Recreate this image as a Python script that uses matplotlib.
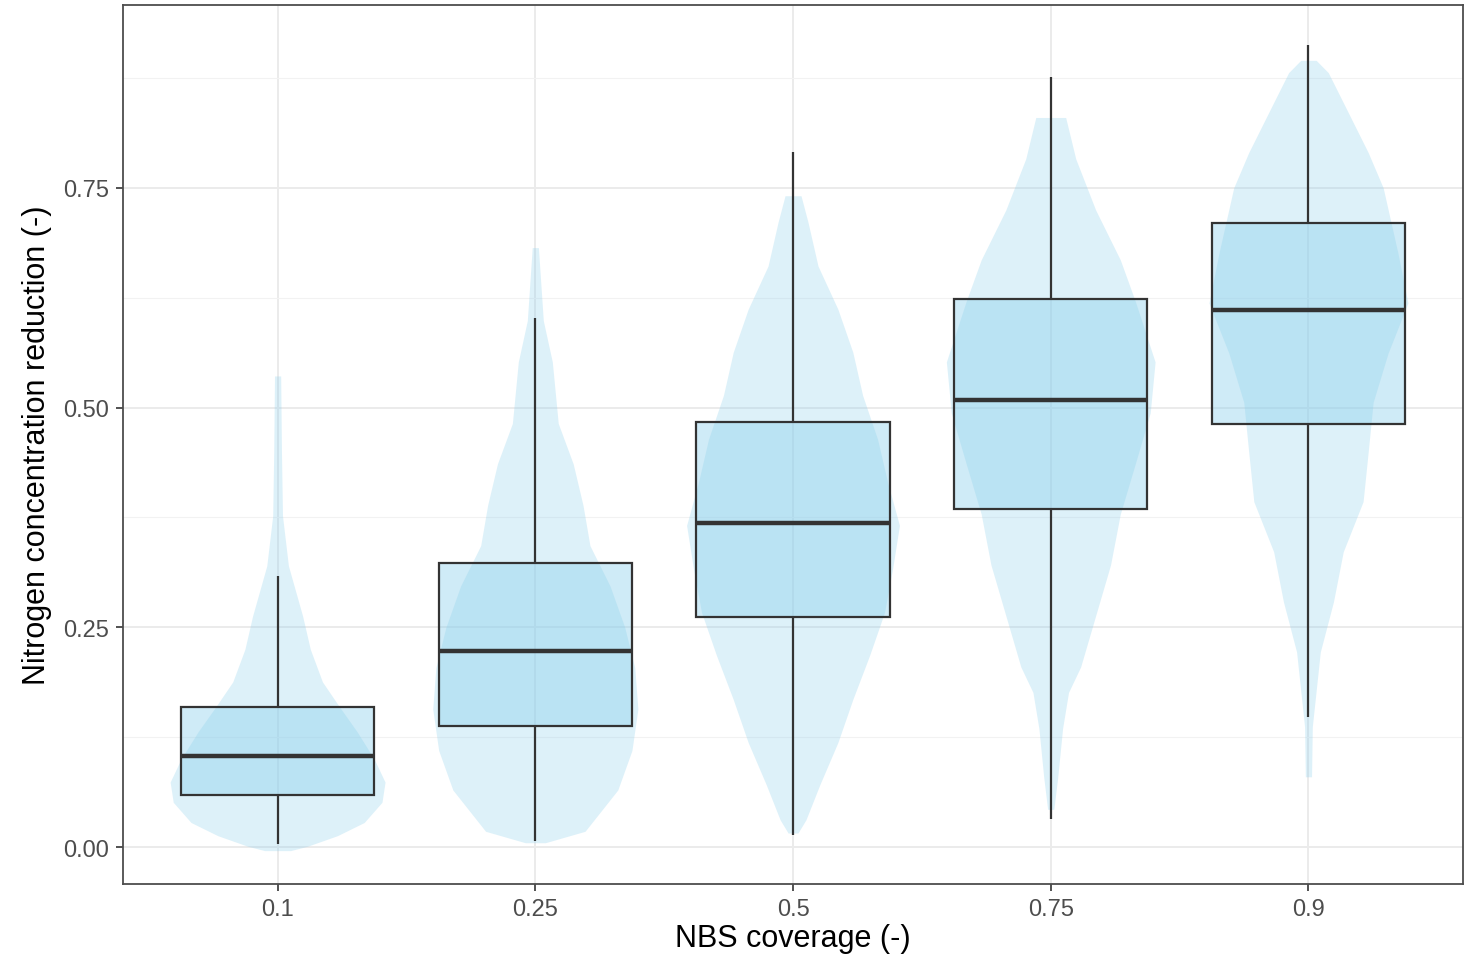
import matplotlib.pyplot as plt
import numpy as np

# categories (NBS coverage) and boxplot statistics
labels = ['0.1', '0.25', '0.5', '0.75', '0.9']
q1 = [0.059, 0.138, 0.262, 0.385, 0.481]
med = [0.104, 0.223, 0.369, 0.509, 0.611]
q3 = [0.159, 0.323, 0.484, 0.623, 0.710]
wlo = [0.003, 0.007, 0.014, 0.032, 0.148]
whi = [0.308, 0.602, 0.791, 0.876, 0.913]

# outline of the dot clouds: y level and half width (x-axis units)
cloud1_y = [-0.004, 0.001, 0.013, 0.028, 0.051, 0.074, 0.100, 0.131, 0.160, 0.188, 0.225, 0.263, 0.320, 0.377, 0.450, 0.536]
cloud1_w = [0.05, 0.116, 0.232, 0.336, 0.405, 0.417, 0.375, 0.309, 0.239, 0.174, 0.127, 0.097, 0.042, 0.019, 0.015, 0.012]
cloud2_y = [0.005, 0.018, 0.065, 0.110, 0.157, 0.204, 0.250, 0.297, 0.343, 0.389, 0.436, 0.482, 0.552, 0.599, 0.682]
cloud2_w = [0.039, 0.193, 0.320, 0.375, 0.398, 0.386, 0.347, 0.290, 0.212, 0.185, 0.147, 0.089, 0.066, 0.031, 0.012]
cloud3_y = [0.016, 0.031, 0.071, 0.119, 0.168, 0.218, 0.267, 0.316, 0.366, 0.415, 0.464, 0.514, 0.563, 0.612, 0.661, 0.711, 0.741]
cloud3_w = [0.019, 0.050, 0.104, 0.174, 0.232, 0.297, 0.355, 0.386, 0.413, 0.367, 0.328, 0.270, 0.232, 0.174, 0.097, 0.058, 0.031]
cloud4_y = [0.043, 0.079, 0.135, 0.176, 0.205, 0.263, 0.321, 0.379, 0.436, 0.494, 0.552, 0.621, 0.668, 0.725, 0.783, 0.830]
cloud4_w = [0.012, 0.027, 0.046, 0.069, 0.116, 0.174, 0.232, 0.270, 0.328, 0.386, 0.405, 0.328, 0.270, 0.174, 0.097, 0.058]
cloud5_y = [0.080, 0.137, 0.222, 0.279, 0.336, 0.393, 0.450, 0.506, 0.562, 0.619, 0.676, 0.750, 0.790, 0.847, 0.881, 0.895]
cloud5_w = [0.012, 0.015, 0.046, 0.097, 0.135, 0.212, 0.232, 0.251, 0.309, 0.386, 0.347, 0.290, 0.232, 0.135, 0.077, 0.03]

clouds = [(cloud1_y, cloud1_w), (cloud2_y, cloud2_w), (cloud3_y, cloud3_w),
          (cloud4_y, cloud4_w), (cloud5_y, cloud5_w)]

plt.rcParams['font.family'] = ['Liberation Sans', 'DejaVu Sans']

fig = plt.figure(figsize=(14.78, 9.62), dpi=100)
ax = fig.add_axes([0.0832, 0.080, 0.9067, 0.9138])

sky = '#87CEEB'
dark = '#333333'
bw = 0.75
xs = np.arange(1, len(labels) + 1)

for i, x in enumerate(xs):
    cy, cw = clouds[i]
    cw = np.array(cw)
    ax.fill_betweenx(cy, x - cw, x + cw, color=sky, alpha=0.28, lw=0, zorder=2)

    # whiskers
    ax.plot([x, x], [q3[i], whi[i]], color=dark, lw=1.6, zorder=3, solid_capstyle='butt')
    ax.plot([x, x], [wlo[i], q1[i]], color=dark, lw=1.6, zorder=3, solid_capstyle='butt')
    # box
    ax.add_patch(plt.Rectangle((x - bw / 2, q1[i]), bw, q3[i] - q1[i],
                               facecolor=sky, alpha=0.4, edgecolor='none', zorder=3))
    ax.add_patch(plt.Rectangle((x - bw / 2, q1[i]), bw, q3[i] - q1[i],
                               facecolor='none', edgecolor=dark, lw=1.6, zorder=4))
    ax.plot([x - bw / 2, x + bw / 2], [med[i], med[i]], color=dark, lw=3.2, zorder=4,
            solid_capstyle='butt')

ax.set_xlim(0.4, 5.6)
ax.set_ylim(-0.042, 0.958)
ax.set_xticks(xs)
ax.set_xticklabels(labels)
ax.set_yticks([0, 0.25, 0.5, 0.75])
ax.set_yticklabels(['0.00', '0.25', '0.50', '0.75'])
ax.set_yticks([0.125, 0.375, 0.625, 0.875], minor=True)

ax.grid(True, which='major', color='#ebebeb', lw=1.4, zorder=0)
ax.grid(True, which='minor', axis='y', color='#f2f2f2', lw=0.8, zorder=0)
ax.set_axisbelow(True)

for s in ax.spines.values():
    s.set_color('#4d4d4d')
    s.set_linewidth(1.3)

ax.tick_params(axis='both', which='major', length=5, width=1.2, color='#333333',
               labelcolor='#4d4d4d', labelsize=17, pad=5)
ax.tick_params(axis='y', which='minor', length=0)

ax.set_xlabel('NBS coverage (-)', fontsize=22, labelpad=2)
ax.set_ylabel('Nitrogen concentration reduction (-)', fontsize=22, labelpad=8)

fig.savefig('out.png', dpi=100)
